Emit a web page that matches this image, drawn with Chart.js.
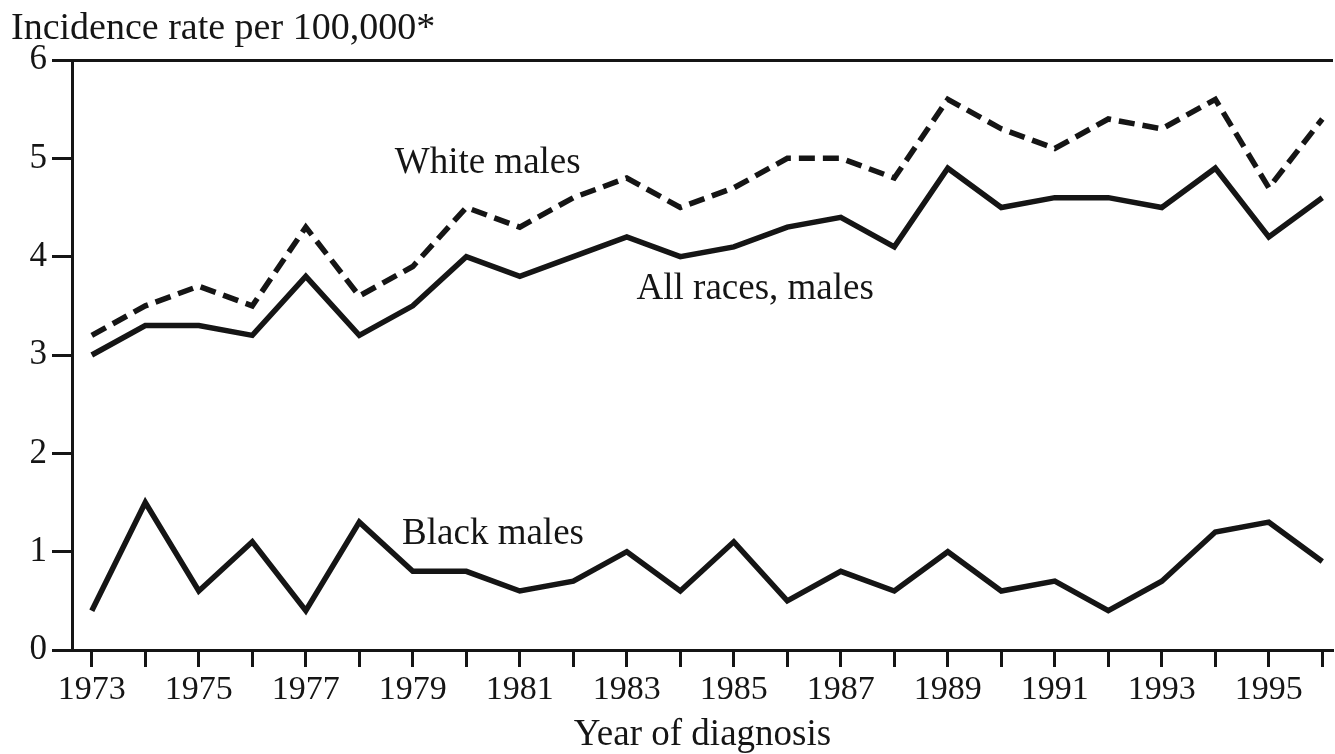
<!DOCTYPE html>
<html>
<head>
<meta charset="utf-8">
<script src="https://cdn.jsdelivr.net/npm/chart.js@4"></script>
<style>
  html, body { margin: 0; padding: 0; background: #fff; }
  #wrap { width: 1335px; height: 754px; }
</style>
</head>
<body>
<div id="wrap"><canvas id="myChart"></canvas></div>
<script>
const years = [1973, 1974, 1975, 1976, 1977, 1978, 1979, 1980, 1981, 1982, 1983, 1984,
  1985, 1986, 1987, 1988, 1989, 1990, 1991, 1992, 1993, 1994, 1995, 1996];
const whiteMales = [3.2, 3.5, 3.7, 3.5, 4.3, 3.6, 3.9, 4.5, 4.3, 4.6, 4.8, 4.5,
  4.7, 5.0, 5.0, 4.8, 5.6, 5.3, 5.1, 5.4, 5.3, 5.6, 4.7, 5.4];
const allRacesMales = [3.0, 3.3, 3.3, 3.2, 3.8, 3.2, 3.5, 4.0, 3.8, 4.0, 4.2, 4.0,
  4.1, 4.3, 4.4, 4.1, 4.9, 4.5, 4.6, 4.6, 4.5, 4.9, 4.2, 4.6];
const blackMales = [0.4, 1.5, 0.6, 1.1, 0.4, 1.3, 0.8, 0.8, 0.6, 0.7, 1.0, 0.6,
  1.1, 0.5, 0.8, 0.6, 1.0, 0.6, 0.7, 0.4, 0.7, 1.2, 1.3, 0.9];
const yTicks = [0, 1, 2, 3, 4, 5, 6];

const INK = "#151515";
const SERIF = "'Liberation Serif', 'DejaVu Serif', serif";

const toPoints = (arr) => arr.map((v, i) => ({ x: years[i], y: v }));

// series names written next to the lines, placed in data units
const lineLabels = [
  { text: "White males", x: 1980.4, y: 4.95 },
  { text: "All races, males", x: 1985.4, y: 3.67 },
  { text: "Black males", x: 1980.5, y: 1.18 },
];

const textPlugin = {
  id: "texts",
  afterDraw(chart) {
    const ctx = chart.ctx;
    const xs = chart.scales.x;
    const ys = chart.scales.y;
    ctx.save();
    ctx.fillStyle = INK;
    ctx.font = "37px " + SERIF;
    ctx.textAlign = "center";
    ctx.textBaseline = "middle";
    lineLabels.forEach((l) => {
      ctx.fillText(l.text, xs.getPixelForValue(l.x), ys.getPixelForValue(l.y));
    });
    ctx.textAlign = "left";
    ctx.font = "38px " + SERIF;
    ctx.fillText("Incidence rate per 100,000*", 11, 29);
    ctx.restore();
  },
};

const ctx = document.getElementById("myChart").getContext("2d");
new Chart(ctx, {
  type: "line",
  data: {
    datasets: [
      {
        label: "White males",
        data: toPoints(whiteMales),
        borderColor: INK,
        borderWidth: 5.5,
        borderDash: [16, 8],
        pointRadius: 0,
        tension: 0,
      },
      {
        label: "All races, males",
        data: toPoints(allRacesMales),
        borderColor: INK,
        borderWidth: 5.5,
        pointRadius: 0,
        tension: 0,
      },
      {
        label: "Black males",
        data: toPoints(blackMales),
        borderColor: INK,
        borderWidth: 5.5,
        pointRadius: 0,
        tension: 0,
      },
    ],
  },
  options: {
    responsive: true,
    maintainAspectRatio: false,
    animation: false,
    layout: { padding: { top: 60, right: 2, left: 0, bottom: 0 } },
    plugins: {
      legend: { display: false },
      tooltip: { enabled: false },
    },
    scales: {
      x: {
        type: "linear",
        min: 1972.63,
        max: 1996.2,
        afterFit: (scale) => { scale.height = 104; },
        ticks: {
          stepSize: 1,
          includeBounds: false,
          autoSkip: false,
          maxRotation: 0,
          color: INK,
          padding: 3,
          font: { family: SERIF, size: 34 },
          callback: (v) => (v % 2 === 1 ? String(v) : ""),
        },
        grid: {
          drawOnChartArea: false,
          tickLength: 17,
          tickColor: INK,
          tickWidth: 3,
        },
        border: { color: INK, width: 3 },
        title: {
          display: true,
          text: "Year of diagnosis",
          color: INK,
          font: { family: SERIF, size: 37, lineHeight: 1 },
          padding: { top: 0, bottom: 0 },
        },
      },
      y: {
        min: 0,
        max: 6,
        afterFit: (scale) => { scale.width = 72; },
        afterBuildTicks: (scale) => {
          scale.ticks = yTicks.map((v) => ({ value: v }));
        },
        ticks: {
          color: INK,
          padding: 5,
          font: { family: SERIF, size: 35 },
        },
        grid: {
          drawOnChartArea: true,
          color: (c) => (c.tick && c.tick.value === 6 ? INK : "rgba(0,0,0,0)"),
          lineWidth: 3,
          tickLength: 20,
          tickColor: INK,
          tickWidth: 3,
        },
        border: { color: INK, width: 3 },
      },
    },
  },
  plugins: [textPlugin],
});
</script>
</body>
</html>
